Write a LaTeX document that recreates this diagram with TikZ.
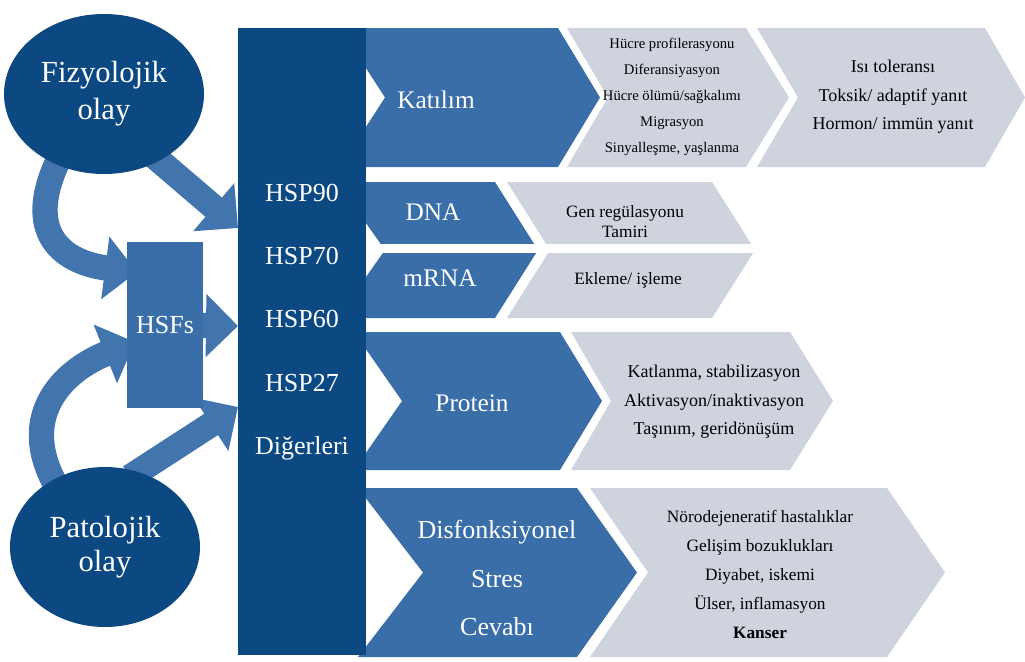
\documentclass[tikz,border=0pt]{standalone}
\usepackage{fontspec}
\setmainfont{Liberation Serif}
\usetikzlibrary{shapes.geometric,arrows.meta,backgrounds}
\definecolor{darknavy}{RGB}{12,72,130}
\definecolor{midblue}{RGB}{58,110,168}
\definecolor{arrowblue}{RGB}{66,116,174}
\definecolor{palegray}{RGB}{206,211,222}
% #1 renk, #2 sol x, #3 centik, #4 sag x, #5 uc, #6 ust y, #7 alt y
\newcommand{\chevshape}[7]{%
	\fill[#1] (#2,#6) -- (#4,#6) -- ({#4+#5},{(#6+#7)/2}) -- (#4,#7) -- (#2,#7) -- ({#2+#3},{(#6+#7)/2}) -- cycle;}
\begin{document}
\begin{tikzpicture}[x=0.75pt,y=-0.75pt,
	whitetext/.style={text=white,align=center,inner sep=0pt},
	blacktext/.style={text=black,align=center,inner sep=0pt},
	fatarrow/.style={draw=arrowblue,line width=19pt,-{Triangle[length=24pt,width=46pt]}}]
	\useasboundingbox (0,0) rectangle (1025,661);
	%Satir 1
	\chevshape{midblue}{340}{45}{558}{42}{28}{167}
	\chevshape{palegray}{567}{41}{746}{43}{28}{167}
	\chevshape{palegray}{757}{41}{985}{40}{28}{167}
	%Satir 2
	\chevshape{midblue}{337}{48}{495}{43}{182}{318}
	\chevshape{palegray}{507}{43}{712}{43}{182}{318}
	\fill[white] (330,244) rectangle (800,253);
	%Satir 3
	\chevshape{midblue}{354}{48}{560}{42}{332}{470}
	\chevshape{palegray}{571}{40}{790}{43}{332}{470}
	%Satir 4
	\chevshape{midblue}{358}{65}{577}{60}{488}{657}
	\chevshape{palegray}{590}{58}{887}{58}{488}{657}
	%Orta sutun
	\node[fill=darknavy,minimum width=96pt,minimum height=470.25pt,inner sep=0pt] (col) at (302,341.5) {};
	\node[whitetext,font=\fontsize{19.5}{47.5}\selectfont] (hsp) at (302,322) {HSP90\\HSP70\\HSP60\\HSP27\\Diğerleri};
	%Olaylar
	\node[ellipse,fill=darknavy,minimum width=150pt,minimum height=120pt,whitetext,font=\fontsize{23}{28}\selectfont] (fiz) at (104,94) {Fizyolojik\\olay};
	\node[ellipse,fill=darknavy,minimum width=142.5pt,minimum height=120pt,whitetext,font=\fontsize{23}{26}\selectfont] (pat) at (105,547) {Patolojik\\olay};
	\node[fill=midblue,minimum width=57pt,minimum height=124.5pt,whitetext,font=\fontsize{19.5}{23}\selectfont] (hsf) at (165,325) {HSFs};
	%Yazilar
	\node[whitetext,font=\fontsize{19}{23}\selectfont] (kat) at (436,100) {Katılım};
	\node[blacktext,font=\fontsize{11}{19.5}\selectfont] (katb) at (672,97) {Hücre profilerasyonu\\Diferansiyasyon\\Hücre ölümü/sağkalımı\\Migrasyon\\Sinyalleşme, yaşlanma};
	\node[blacktext,font=\fontsize{13.5}{21.4}\selectfont] (katc) at (893,97) {Isı toleransı\\Toksik/ adaptif yanıt\\Hormon/ immün yanıt};
	\node[whitetext,font=\fontsize{19}{23}\selectfont] (dna) at (433,212) {DNA};
	\node[blacktext,font=\fontsize{13}{15}\selectfont] (dnab) at (625,222) {Gen regülasyonu\\Tamiri};
	\node[whitetext,font=\fontsize{19}{23}\selectfont] (mrna) at (440,278) {mRNA};
	\node[blacktext,font=\fontsize{13}{15}\selectfont] (mrnab) at (628,280) {Ekleme/ işleme};
	\node[whitetext,font=\fontsize{19}{23}\selectfont] (pro) at (472,403) {Protein};
	\node[blacktext,font=\fontsize{13.5}{21.4}\selectfont] (prob) at (714,402) {Katlanma, stabilizasyon\\Aktivasyon/inaktivasyon\\Taşınım, geridönüşüm};
	\node[whitetext,font=\fontsize{19.5}{36.4}\selectfont] (dis) at (497,578) {Disfonksiyonel\\Stres\\Cevabı};
	\node[blacktext,font=\fontsize{13}{21.75}\selectfont] (disb) at (760,574) {Nörodejeneratif hastalıklar\\Gelişim bozuklukları\\Diyabet, iskemi\\Ülser, inflamasyon\\\textbf{Kanser}};
	%Oklar
	\coordinate (inA) at (238,228);
	\coordinate (inB) at (137,272);
	\coordinate (inC) at (135,342);
	\coordinate (inD) at (238,407);
	\coordinate (inE) at (238,326);
	\begin{pgfonlayer}{background}
		\draw[fatarrow] ([shift={(30,45)}]fiz.center) -- (inA);
		\draw[fatarrow] ([shift={(-40,55)}]fiz.center) .. controls (20,230) and (60,262) .. (inB);
		\draw[fatarrow] ([shift={(-45,-55)}]pat.center) .. controls (15,420) and (60,372) .. (inC);
		\draw[fatarrow] ([shift={(25,-70)}]pat.center) -- (inD);
		\draw[fatarrow] (hsf.center) -- (inE);
	\end{pgfonlayer}
\end{tikzpicture}
\end{document}
